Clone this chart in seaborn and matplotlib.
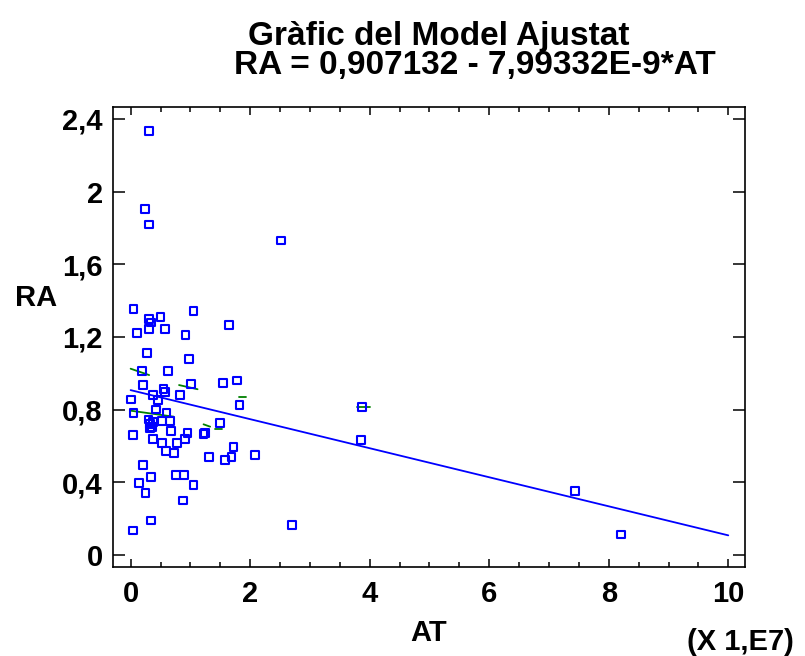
import numpy as np
import pandas as pd
import matplotlib
matplotlib.use("Agg")
import matplotlib.pyplot as plt
import seaborn as sns
from matplotlib.ticker import MultipleLocator

# ---- data (AT in units of 1e7) ----
at_values = [0.31, 0.24, 0.31, 2.52,
             0.05, 0.31, 0.34, 0.50, 1.05, 1.65, 0.11, 0.31, 0.58, 0.92,
             0.28, 0.98, 0.19, 0.62, 0.21, 0.55, 0.58, 0.38, 0.82, 1.01,
             1.55, 1.78, 0.01,
             0.46, 0.43, 0.60, 0.05, 0.30, 0.33, 0.36, 0.38, 0.32,
             0.52, 0.66, 0.68, 0.95, 0.91, 0.77, 0.38, 0.52, 0.59, 0.72,
             0.04, 1.22, 1.25, 1.49, 1.72, 1.69, 1.58, 1.31, 0.21, 0.34,
             0.76, 0.89, 0.14, 1.05, 0.25, 0.88, 0.34, 0.04,
             1.82, 2.08, 3.87, 3.86, 7.43, 8.21, 2.70]
ra_values = [2.335, 1.904, 1.818, 1.730,
             1.354, 1.300, 1.280, 1.310, 1.343, 1.267, 1.223, 1.242, 1.245, 1.212,
             1.113, 1.080, 1.014, 1.014, 0.937, 0.915, 0.895, 0.879, 0.880, 0.940,
             0.948, 0.960, 0.855,
             0.853, 0.800, 0.780, 0.780, 0.745, 0.720, 0.705, 0.730, 0.700,
             0.736, 0.736, 0.684, 0.671, 0.640, 0.616, 0.640, 0.618, 0.572, 0.563,
             0.662, 0.666, 0.673, 0.726, 0.596, 0.541, 0.521, 0.541, 0.497, 0.429,
             0.440, 0.440, 0.396, 0.385, 0.341, 0.299, 0.189, 0.134,
             0.826, 0.552, 0.816, 0.631, 0.352, 0.112, 0.165]

# fitted model RA = 0.907132 - 7.99332E-9*AT (end points)
fit_at = [0.0, 10.0]
fit_ra = [0.907132, 0.107800]

# small green segments
green_x = [[0.00, 0.31], [0.81, 1.12], [0.00, 0.72], [1.22, 1.33],
           [1.41, 1.53], [1.82, 1.93], [3.78, 4.00]]
green_y = [[1.025, 0.990], [0.935, 0.912], [0.794, 0.761], [0.719, 0.706],
           [0.693, 0.693], [0.871, 0.871], [0.813, 0.813]]

x_ticks = [0, 2, 4, 6, 8, 10]
x_ticklabels = ["0", "2", "4", "6", "8", "10"]
y_ticks = [0, 0.4, 0.8, 1.2, 1.6, 2.0, 2.4]
y_ticklabels = ["0", "0,4", "0,8", "1,2", "1,6", "2", "2,4"]

title1 = "Gràfic del Model Ajustat"
title2 = "RA = 0,907132 - 7,99332E-9*AT"

sns.set_theme(style="white")
plt.rcParams["font.family"] = ["Liberation Sans", "DejaVu Sans"]
plt.rcParams["font.weight"] = "bold"
plt.rcParams["axes.labelweight"] = "bold"
plt.rcParams["text.color"] = "black"
plt.rcParams["axes.labelcolor"] = "black"
plt.rcParams["xtick.color"] = "black"
plt.rcParams["ytick.color"] = "black"

df = pd.DataFrame({"AT": at_values, "RA": ra_values})
fit_df = pd.DataFrame({"AT": fit_at, "RA": fit_ra})

fig = plt.figure(figsize=(8.05, 6.56), dpi=100)
ax = fig.add_axes([113.3 / 805, 1 - 567.3 / 656, (745 - 113.3) / 805, (567.3 - 106.7) / 656])

sns.lineplot(data=fit_df, x="AT", y="RA", ax=ax, color="#0000FF", linewidth=1.3)
for gx, gy in zip(green_x, green_y):
    sns.lineplot(x=gx, y=gy, ax=ax, color="#008000", linewidth=1.3)
sns.scatterplot(data=df, x="AT", y="RA", ax=ax, marker="s", s=31,
                facecolors="none", edgecolors="#0000FF", linewidth=1.5, zorder=3)

ax.set_xlim(-0.29, 10.28)
ax.set_ylim(-0.068, 2.467)
ax.set_xticks(x_ticks)
ax.set_xticklabels(x_ticklabels)
ax.set_yticks(y_ticks)
ax.set_yticklabels(y_ticklabels)
ax.xaxis.set_minor_locator(MultipleLocator(0.5))

ax.tick_params(axis="x", which="major", direction="in", length=6, width=1.1,
               top=True, bottom=True, labelsize=21, pad=9, colors="black")
ax.tick_params(axis="x", which="minor", direction="in", length=3.5, width=1.1,
               top=True, bottom=True, colors="black")
ax.tick_params(axis="y", which="major", direction="in", length=8.6, width=1.1,
               left=True, right=True, labelsize=21, pad=7.6, colors="black")
for sp in ax.spines.values():
    sp.set_visible(True)
    sp.set_color("black")
    sp.set_linewidth(1.2)

ax.set_xlabel("AT", fontsize=21, fontweight="bold", labelpad=8, color="black")
ax.set_ylabel("RA", fontsize=21, fontweight="bold", rotation=0, ha="center",
              va="center", color="black")
ax.yaxis.set_label_coords(-0.122, 0.585)

fig.text(740 / 805, 1 - 642 / 656, "(X 1,E7)", ha="center", va="center",
         fontsize=21, fontweight="bold", color="black")
fig.text(248 / 805, 1 - 45 / 656, title1, ha="left", va="baseline",
         fontsize=24, fontweight="bold", color="black")
fig.text(234 / 805, 1 - 74 / 656, title2, ha="left", va="baseline",
         fontsize=24, fontweight="bold", color="black")

fig.savefig("out.png", dpi=100)
